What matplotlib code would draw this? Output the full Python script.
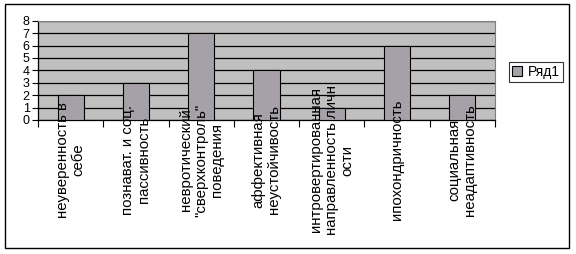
import matplotlib
matplotlib.use("Agg")
import matplotlib.pyplot as plt
from matplotlib.patches import Rectangle

# data
categories = [
    "неуверенность в\nсебе",
    "познават. и соц.\nпассивность",
    "невротический\n\"сверхконтроль\"\nповедения",
    "аффективная\nнеустойчивость",
    "интровертированная\nнаправленность личн\nости",
    "ипохондричность",
    "социальная\nнеадаптивность",
]
values = [2, 3, 7, 4, 1, 6, 2]
series_name = "Ряд1"
yticks = [0, 1, 2, 3, 4, 5, 6, 7, 8]

plt.rcParams['font.family'] = ['Liberation Sans', 'DejaVu Sans']

W, H = 576, 254
fig = plt.figure(figsize=(W / 100, H / 100), dpi=100)
fig.patch.set_facecolor("white")

# outer chart border
fig.add_artist(Rectangle((5 / W, 1 - 248 / H), 564 / W, 244 / H,
                         transform=fig.transFigure, fill=False,
                         edgecolor="black", linewidth=1.0))

ax = fig.add_axes([38 / W, 1 - 120 / H, 457 / W, 99.3 / H])
ax.set_facecolor("#C0C0C0")

x = list(range(len(categories)))
bars = ax.bar(x, values, width=0.4, color="#A6A1A8", edgecolor="black",
              linewidth=0.8, zorder=3, label=series_name)

ax.set_xlim(-0.5, len(categories) - 0.5)
ax.set_ylim(0, 8)
ax.set_yticks(yticks)
ax.set_yticklabels([str(v) for v in yticks], fontsize=9)
ax.yaxis.grid(True, color="black", linewidth=0.9, zorder=1)
ax.set_axisbelow(True)

ax.set_xticks([i + 0.5 for i in range(-1, len(categories))])
ax.set_xticklabels([])
ax.tick_params(axis="x", direction="out", length=5, width=0.8)
ax.tick_params(axis="y", direction="out", length=4, width=0.8, pad=2)

for s in ["top", "right"]:
    ax.spines[s].set_color("#808080")
    ax.spines[s].set_linewidth(0.8)
for s in ["left", "bottom"]:
    ax.spines[s].set_color("black")
    ax.spines[s].set_linewidth(0.9)

# category labels, rotated, centred below the axis
for i, lab in enumerate(categories):
    xf = ax.transData.transform((i, 0))[0] / W
    fig.text(xf, 1 - 160 / H, lab, rotation=90, ha="center", va="center",
             multialignment="center", fontsize=10.8, linespacing=1.15)

leg = fig.legend(handles=[bars], labels=[series_name],
                 loc="center", bbox_to_anchor=(536 / W, 1 - 72 / H),
                 fontsize=10, frameon=True, fancybox=False,
                 handlelength=0.7, handleheight=0.7, handletextpad=0.4,
                 borderpad=0.25, borderaxespad=0)
leg.get_frame().set_edgecolor("black")
leg.get_frame().set_linewidth(0.8)

fig.savefig("out.png", dpi=100)
